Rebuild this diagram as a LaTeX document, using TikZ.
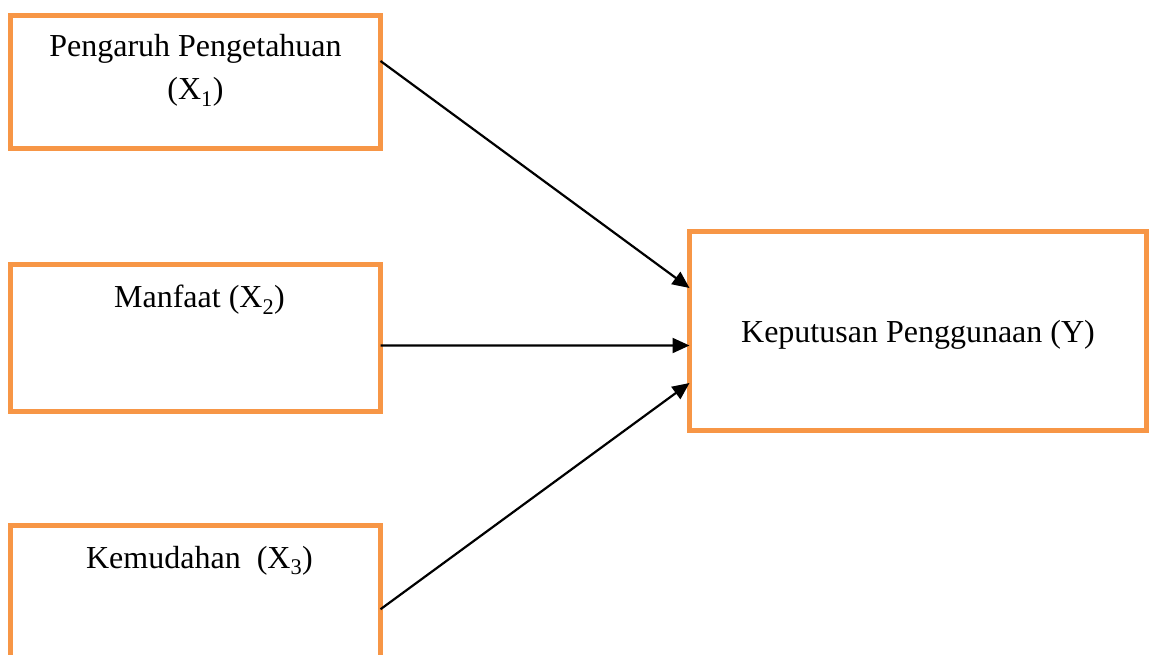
\documentclass[tikz,border=0pt]{standalone}
\usepackage{fontspec}
\setmainfont{Liberation Serif}
\usetikzlibrary{arrows.meta}
\definecolor{boxorange}{RGB}{247,150,70}

\begin{document}
\begin{tikzpicture}[x=1pt,y=-1pt,
   box/.style={draw=boxorange,line width=5pt,inner sep=0pt,outer sep=0pt,anchor=north west,minimum width=370pt},
   txt/.style={font=\fontsize{32}{43}\selectfont,align=center,anchor=base,inner sep=0pt},
   arr/.style={line width=2.2pt,-{Triangle[length=17pt,width=15pt]}}]
   \useasboundingbox (0,0) rectangle (1149,655);
   \node[box,minimum height=133pt] (x1) at (10.5,15.5) {};
   \node[box,minimum height=146.5pt] (x2) at (10.5,265) {};
   \node[box,minimum height=146.5pt] (x3) at (10.5,525) {};
   \node[box,minimum width=457pt,minimum height=199pt] (y) at (689.5,231.5) {};
   \node[txt] (x1t) at ([yshift=-84.5pt]x1.north) {Pengaruh Pengetahuan\\(X\textsubscript{1})};
   \node[txt] (x2t) at ([xshift=4pt,yshift=-43pt]x2.north) {Manfaat (X\textsubscript{2})};
   \node[txt] (x3t) at ([xshift=4pt,yshift=-43pt]x3.north) {Kemudahan~ (X\textsubscript{3})};
   \node[txt] (yt) at ([yshift=-110.5pt]y.north) {Keputusan Penggunaan (Y)};
   \draw[arr] ([yshift=21pt]x1.east) -- ([yshift=43pt]y.west);
   \draw[arr] ([yshift=-7.3pt]x2.east) -- ([yshift=-14.5pt]y.west);
   \draw[arr] ([yshift=-11pt]x3.east) -- ([yshift=-52pt]y.west);
\end{tikzpicture}
\end{document}
